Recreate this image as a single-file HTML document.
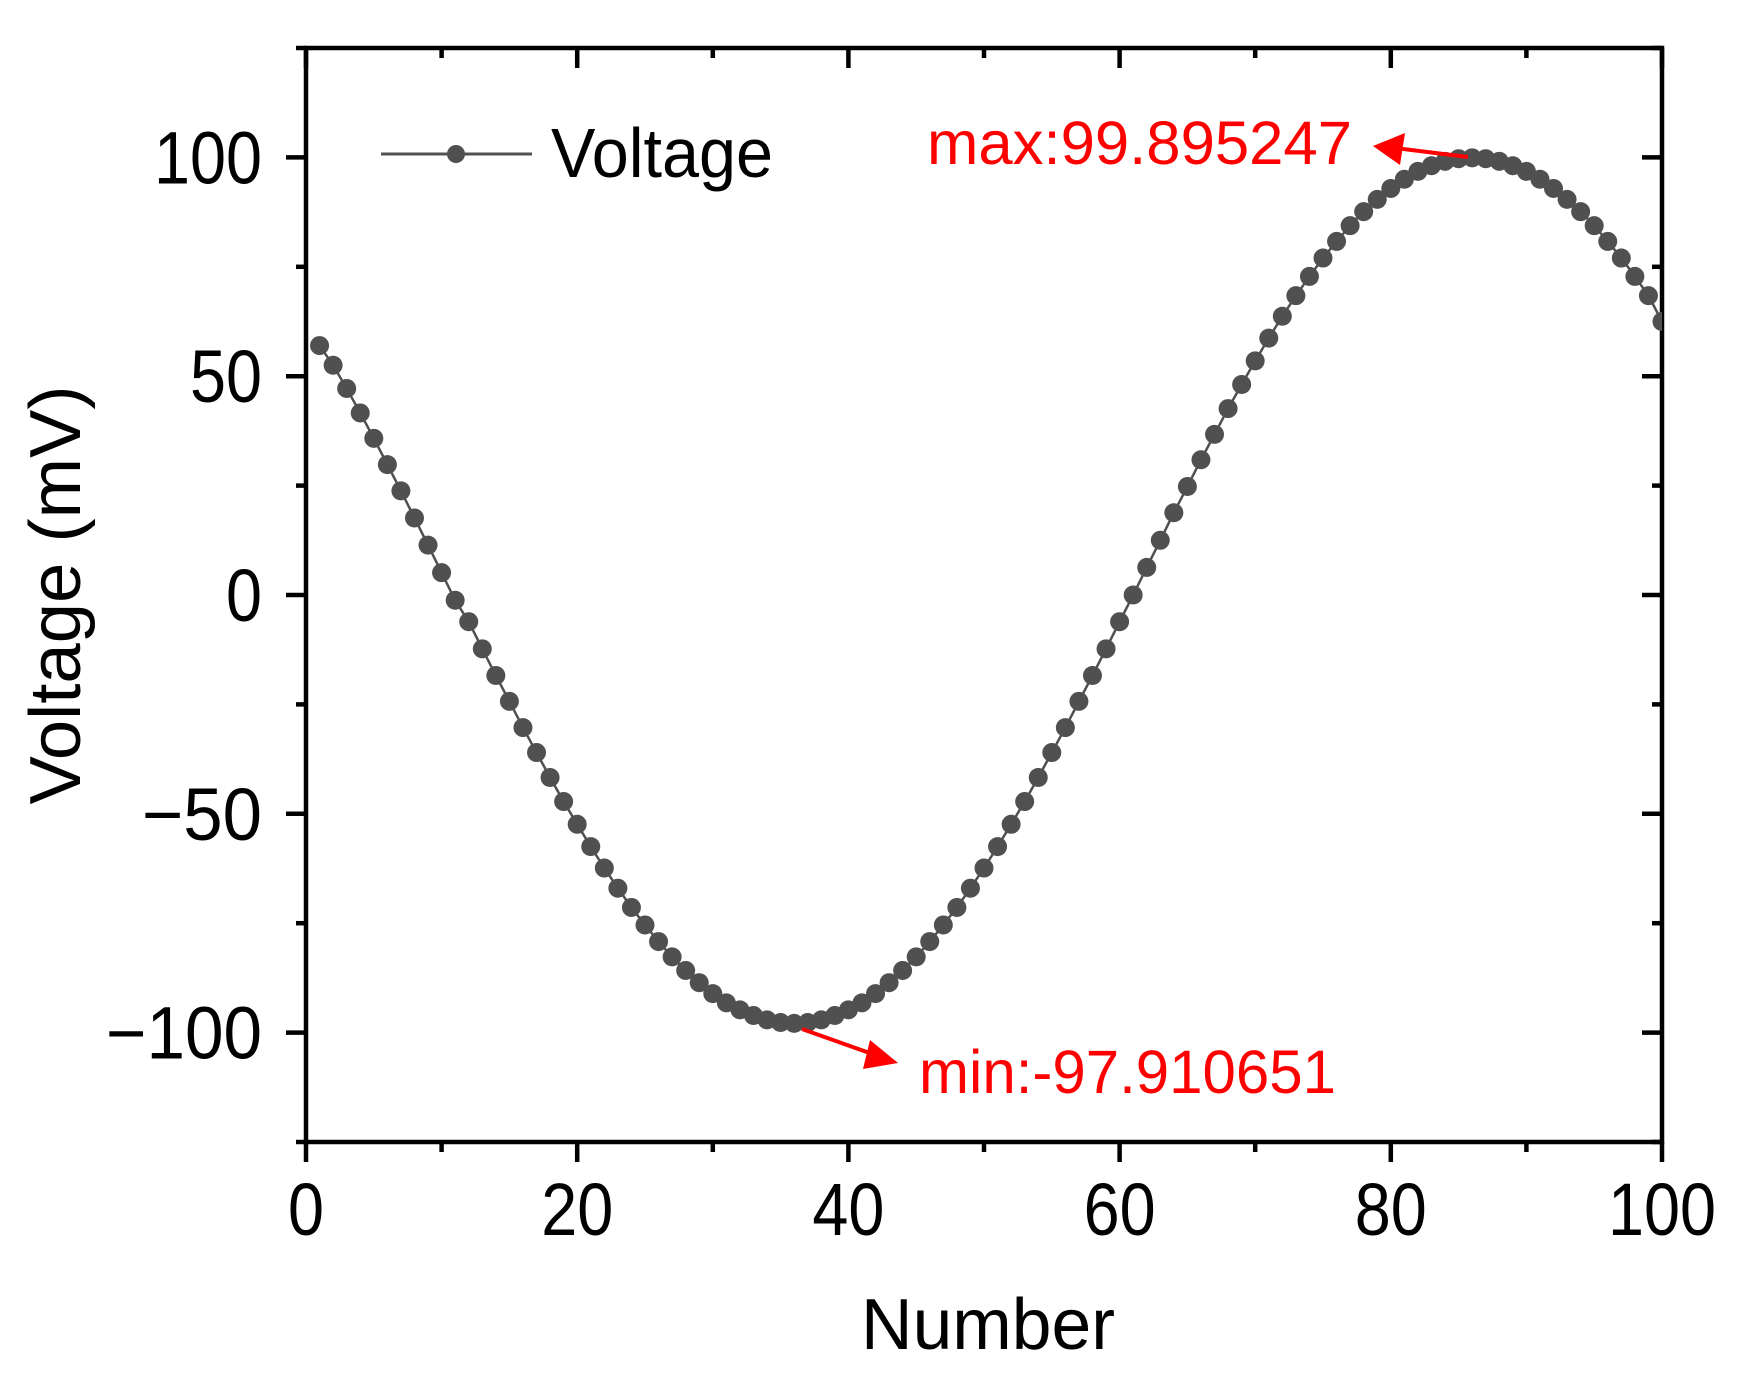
<!DOCTYPE html>
<html><head><meta charset="utf-8">
<style>
html,body{margin:0;padding:0;background:#fff;}
svg{display:block;font-family:"Liberation Sans",Arial,sans-serif;}
</style></head>
<body>
<svg id="chart" width="1748" height="1384" viewBox="0 0 1748 1384" xmlns="http://www.w3.org/2000/svg">
<defs><clipPath id="plotclip"><rect x="306" y="48" width="1356" height="1094"/></clipPath></defs>
<g id="axes"></g>
<g id="series" clip-path="url(#plotclip)"></g>
<g>
  <line x1="381" y1="154" x2="532" y2="154" stroke="#505050" stroke-width="3"/>
  <circle cx="456" cy="154" r="9" fill="#505050"/>
  <text x="551" y="177" font-size="70" textLength="222" lengthAdjust="spacingAndGlyphs">Voltage</text>
</g>
<g>
  <text x="927" y="164" font-size="61" fill="#ff0000" textLength="425" lengthAdjust="spacingAndGlyphs">max:99.895247</text>
  <line x1="1468" y1="157" x2="1395" y2="148" stroke="#ff0000" stroke-width="4"/>
  <polygon points="1373,146 1405,133 1400,165" fill="#ff0000"/>
</g>
<g>
  <text x="919" y="1093" font-size="61" fill="#ff0000" textLength="417" lengthAdjust="spacingAndGlyphs">min:-97.910651</text>
  <line x1="802" y1="1029" x2="878" y2="1056" stroke="#ff0000" stroke-width="4"/>
  <polygon points="898,1063 870,1040 863,1069" fill="#ff0000"/>
</g>
<text x="988" y="1349" font-size="72" text-anchor="middle" textLength="254" lengthAdjust="spacingAndGlyphs">Number</text>
<text x="0" y="0" font-size="72" text-anchor="middle" textLength="419" lengthAdjust="spacingAndGlyphs" transform="translate(80,595) rotate(-90)">Voltage (mV)</text>
</svg>
<script>
const xValues = [1,2,3,4,5,6,7,8,9,10,11,12,13,14,15,16,17,18,19,20,21,22,23,24,25,26,27,28,29,30,31,32,33,34,35,36,37,38,39,40,41,42,43,44,45,46,47,48,49,50,51,52,53,54,55,56,57,58,59,60,61,62,63,64,65,66,67,68,69,70,71,72,73,74,75,76,77,78,79,80,81,82,83,84,85,86,87,88,89,90,91,92,93,94,95,96,97,98,99,100];
const voltage = [57.0,52.5,47.2,41.6,35.8,29.8,23.8,17.6,11.4,5.1,-1.2,-6.1,-12.3,-18.4,-24.3,-30.3,-36.0,-41.7,-47.2,-52.4,-57.5,-62.4,-67.0,-71.4,-75.4,-79.2,-82.7,-85.8,-88.6,-91.1,-93.2,-94.8,-96.1,-97.1,-97.7,-97.9,-97.7,-97.1,-96.1,-94.8,-93.2,-91.1,-88.6,-85.8,-82.7,-79.2,-75.4,-71.4,-67.0,-62.4,-57.5,-52.4,-47.2,-41.7,-36.0,-30.3,-24.3,-18.4,-12.3,-6.1,0.0,6.3,12.5,18.8,24.8,30.9,36.7,42.6,48.1,53.5,58.7,63.7,68.4,72.8,77.0,80.8,84.4,87.6,90.4,92.9,95.0,96.8,98.1,99.1,99.7,99.9,99.7,99.1,98.1,96.8,95.0,92.9,90.4,87.6,84.4,80.8,77.0,72.8,68.4,62.5];
const xTicks = [0,20,40,60,80,100];
const xMinorTicks = [10,30,50,70,90];
const yTicks = [-100,-50,0,50,100];
const yMinorTicks = [-125,-75,-25,25,75,125];
const xTickLabels = ["0","20","40","60","80","100"];
const yTickLabels = ["\u2212100","\u221250","0","50","100"];

const L=306,R=1662,T=48,B=1142;
const xMin=0,xMax=100,yMin=-125,yMax=125;
const sx=v=>L+(v-xMin)/(xMax-xMin)*(R-L);
const sy=v=>B-(v-yMin)/(yMax-yMin)*(B-T);
const NS="http://www.w3.org/2000/svg";
function mk(tag,attrs,parent){const e=document.createElementNS(NS,tag);for(const k in attrs)e.setAttribute(k,attrs[k]);parent.appendChild(e);return e;}
function labelLen(s){let w=0;for(const ch of s){w+=(ch==='\u2212')?48:36;}return w;}
const axes=document.getElementById('axes');
const series=document.getElementById('series');

let frame=mk('rect',{x:L,y:T,width:R-L,height:B-T,fill:'none',stroke:'#000','stroke-width':4.5},axes);



xTicks.forEach((v,i)=>{
  const x=sx(v);
  let t=mk('line',{x1:x,y1:B,x2:x,y2:B+20,stroke:'#000','stroke-width':4.5},axes);
  
  
  let t2=mk('line',{x1:x,y1:T,x2:x,y2:T+20,stroke:'#000','stroke-width':4.5},axes);
  
  
  let lb=mk('text',{x:x,y:1235,'font-size':74,'text-anchor':'middle',textLength:labelLen(xTickLabels[i]),lengthAdjust:'spacingAndGlyphs'},axes);
  lb.textContent=xTickLabels[i];
  
  
});
xMinorTicks.forEach(v=>{
  const x=sx(v);
  let t=mk('line',{x1:x,y1:B,x2:x,y2:B+10,stroke:'#000','stroke-width':4.5},axes);
  
  
  let t2=mk('line',{x1:x,y1:T,x2:x,y2:T+10,stroke:'#000','stroke-width':4.5},axes);
  
  
});
yTicks.forEach((v,i)=>{
  const y=sy(v);
  let t=mk('line',{x1:L-20,y1:y,x2:L,y2:y,stroke:'#000','stroke-width':4.5},axes);
  
  
  let t2=mk('line',{x1:R-20,y1:y,x2:R,y2:y,stroke:'#000','stroke-width':4.5},axes);
  
  
  let lb=mk('text',{x:262,y:y+26,'font-size':74,'text-anchor':'end',textLength:labelLen(yTickLabels[i]),lengthAdjust:'spacingAndGlyphs'},axes);
  lb.textContent=yTickLabels[i];
  
  
});
yMinorTicks.forEach(v=>{
  const y=sy(v);
  let t=mk('line',{x1:L-10,y1:y,x2:L,y2:y,stroke:'#000','stroke-width':4.5},axes);
  
  
  let t2=mk('line',{x1:R-10,y1:y,x2:R,y2:y,stroke:'#000','stroke-width':4.5},axes);
  
  
});

const pts=xValues.map((x,i)=>sx(x)+','+sy(voltage[i])).join(' ');
let pl=mk('polyline',{points:pts,fill:'none',stroke:'#505050','stroke-width':2.5},series);


xValues.forEach((x,i)=>{
  let c=mk('circle',{cx:sx(x),cy:sy(voltage[i]),r:9.5,fill:'#505050'},series);
  
  
});
</script>
</body></html>
